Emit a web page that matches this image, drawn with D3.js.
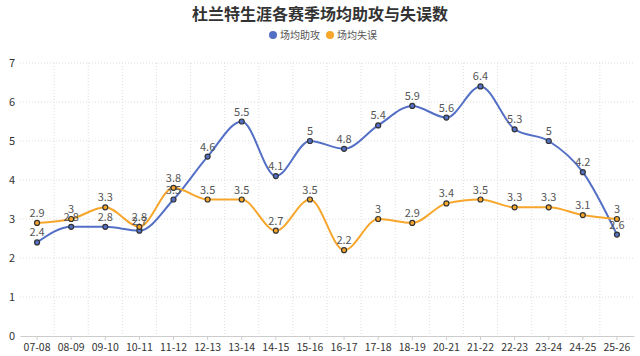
<!DOCTYPE html>
<html><head><meta charset="utf-8">
<script src="https://cdn.jsdelivr.net/npm/d3@7"></script>
<style>body{margin:0;background:#fff}svg{display:block}text{font-family:"Noto Sans CJK SC","Noto Sans",sans-serif}</style>
</head><body><svg id="c" width="640" height="356"></svg>
<script>
const seasons = ["07-08","08-09","09-10","10-11","11-12","12-13","13-14","14-15","15-16","16-17","17-18","18-19","20-21","21-22","22-23","23-24","24-25","25-26"];
const assists = [2.4,2.8,2.8,2.7,3.5,4.6,5.5,4.1,5,4.8,5.4,5.9,5.6,6.4,5.3,5,4.2,2.6];
const turnovers = [2.9,3,3.3,2.8,3.8,3.5,3.5,2.7,3.5,2.2,3,2.9,3.4,3.5,3.3,3.3,3.1,3];
const yTicks = [0,1,2,3,4,5,6,7];
const seriesNames = ["场均助攻","场均失误"];
const colors = ["#5470c6","#f7a62c"];

const svg = d3.select("#c");
const x = d3.scaleBand().domain(seasons).range([20,634]);
const y = d3.scaleLinear().domain([0,7]).range([336,63]);
const cx = d => x(d) + x.bandwidth()/2;

// grid
svg.append("g").selectAll("line").data(yTicks.filter(t=>t>0)).join("line")
  .attr("x1",20).attr("x2",634).attr("y1",d=>y(d)).attr("y2",d=>y(d))
  .attr("stroke","#ddd").attr("stroke-dasharray","1,2");
svg.append("g").selectAll("line").data(seasons.slice(1)).join("line")
  .attr("x1",d=>x(d)).attr("x2",d=>x(d)).attr("y1",63).attr("y2",336)
  .attr("stroke","#ddd").attr("stroke-dasharray","1,2");

// y axis labels
svg.append("g").selectAll("text").data(yTicks).join("text")
  .attr("x",15).attr("y",d=>y(d)+4).attr("text-anchor","end")
  .attr("font-size",11).attr("fill","#333").text(d=>d);

// x axis
const xa = svg.append("g").attr("transform","translate(0,336)")
  .call(d3.axisBottom(x).tickSize(4).tickPadding(4).tickSizeOuter(0));
xa.select(".domain").attr("stroke","#ccc");
xa.selectAll(".tick line").attr("stroke","#ccc");
xa.selectAll(".tick text").attr("fill","#333").attr("font-size",10.5).style("font-family","'Noto Sans CJK SC',sans-serif");

const line = d3.line().x((d,i)=>cx(seasons[i])).y(d=>y(d)).curve(d3.curveMonotoneX);
[assists,turnovers].forEach((data,k)=>{
  svg.append("path").datum(data).attr("d",line).attr("fill","none")
    .attr("stroke",colors[k]).attr("stroke-width",2);
});
[assists,turnovers].forEach((data,k)=>{
  const g = svg.append("g");
  g.selectAll("circle").data(data).join("circle")
    .attr("cx",(d,i)=>cx(seasons[i])).attr("cy",d=>y(d)).attr("r",2.5)
    .attr("fill",colors[k]).attr("stroke","#333").attr("stroke-width",1.2);
  g.selectAll("text").data(data).join("text")
    .attr("x",(d,i)=>cx(seasons[i])).attr("y",d=>y(d)-6)
    .attr("text-anchor","middle").attr("font-size",11).attr("fill","#555").text(d=>d);
});

// title
svg.append("text").attr("x",320).attr("y",20).attr("text-anchor","middle")
  .attr("font-size",16).attr("font-weight","bold").attr("fill","#333")
  .text("杜兰特生涯各赛季场均助攻与失误数");

// legend
const lg = svg.append("g");
const lx = [273,330];
seriesNames.forEach((n,k)=>{
  lg.append("circle").attr("cx",lx[k]).attr("cy",35).attr("r",4).attr("fill",colors[k]);
  lg.append("text").attr("x",lx[k]+7).attr("y",38.5).attr("font-size",10).attr("fill","#555").text(n);
});
</script></body></html>
